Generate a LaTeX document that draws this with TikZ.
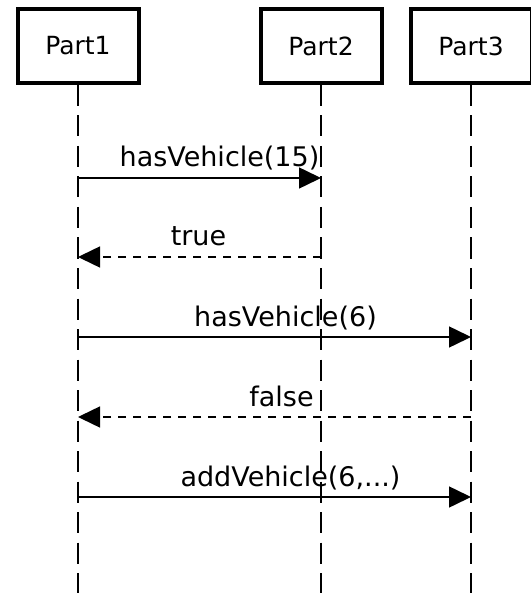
\documentclass[tikz,border=0pt]{standalone}
\usepackage{fontspec}
\setmainfont{DejaVu Sans}
\usetikzlibrary{arrows.meta}

\begin{document}
\begin{tikzpicture}[x=1pt,y=-1pt,
  part/.style={draw,line width=4pt,minimum width=121pt,minimum height=74pt,
    inner sep=0pt,font=\fontsize{25}{30}\selectfont},
  life/.style={line width=2pt,dash pattern=on 21pt off 9.5pt},
  msg/.style={-{Triangle[length=22pt,width=21pt]},line width=1.5pt},
  ret/.style={msg,dash pattern=on 8pt off 7pt},
  lbl/.style={midway,anchor=base,yshift=11pt,inner sep=0pt,
    font=\fontsize{27}{32}\selectfont}]
\useasboundingbox (0,0) rectangle (530,593);
% participants
\node[part] (p1) at (78,46) {Part1};
\node[part] (p2) at (321,46) {Part2};
\node[part] (p3) at (471,46) {Part3};
\coordinate (e1) at (78,593);
\coordinate (e2) at (321,593);
\coordinate (e3) at (471,593);
\draw[life] (p1) -- (e1);
\draw[life] (p2) -- (e2);
\draw[life] (p3) -- (e3);
% message rows
\coordinate (m1) at (0,178);
\coordinate (m2) at (0,257);
\coordinate (m3) at (0,337);
\coordinate (m4) at (0,417);
\coordinate (m5) at (0,497);
\draw[msg] (p1 |- m1) -- node[lbl,xshift=20pt]{hasVehicle(15)} (p2 |- m1);
\draw[ret] (p2 |- m2) -- node[lbl,xshift=-1pt]{true} (p1 |- m2);
\draw[msg] (p1 |- m3) -- node[lbl,xshift=11pt]{hasVehicle(6)} (p3 |- m3);
\draw[ret] (p3 |- m4) -- node[lbl,xshift=7pt]{false} (p1 |- m4);
\draw[msg] (p1 |- m5) -- node[lbl,xshift=16pt]{addVehicle(6,...)} (p3 |- m5);
\end{tikzpicture}
\end{document}
